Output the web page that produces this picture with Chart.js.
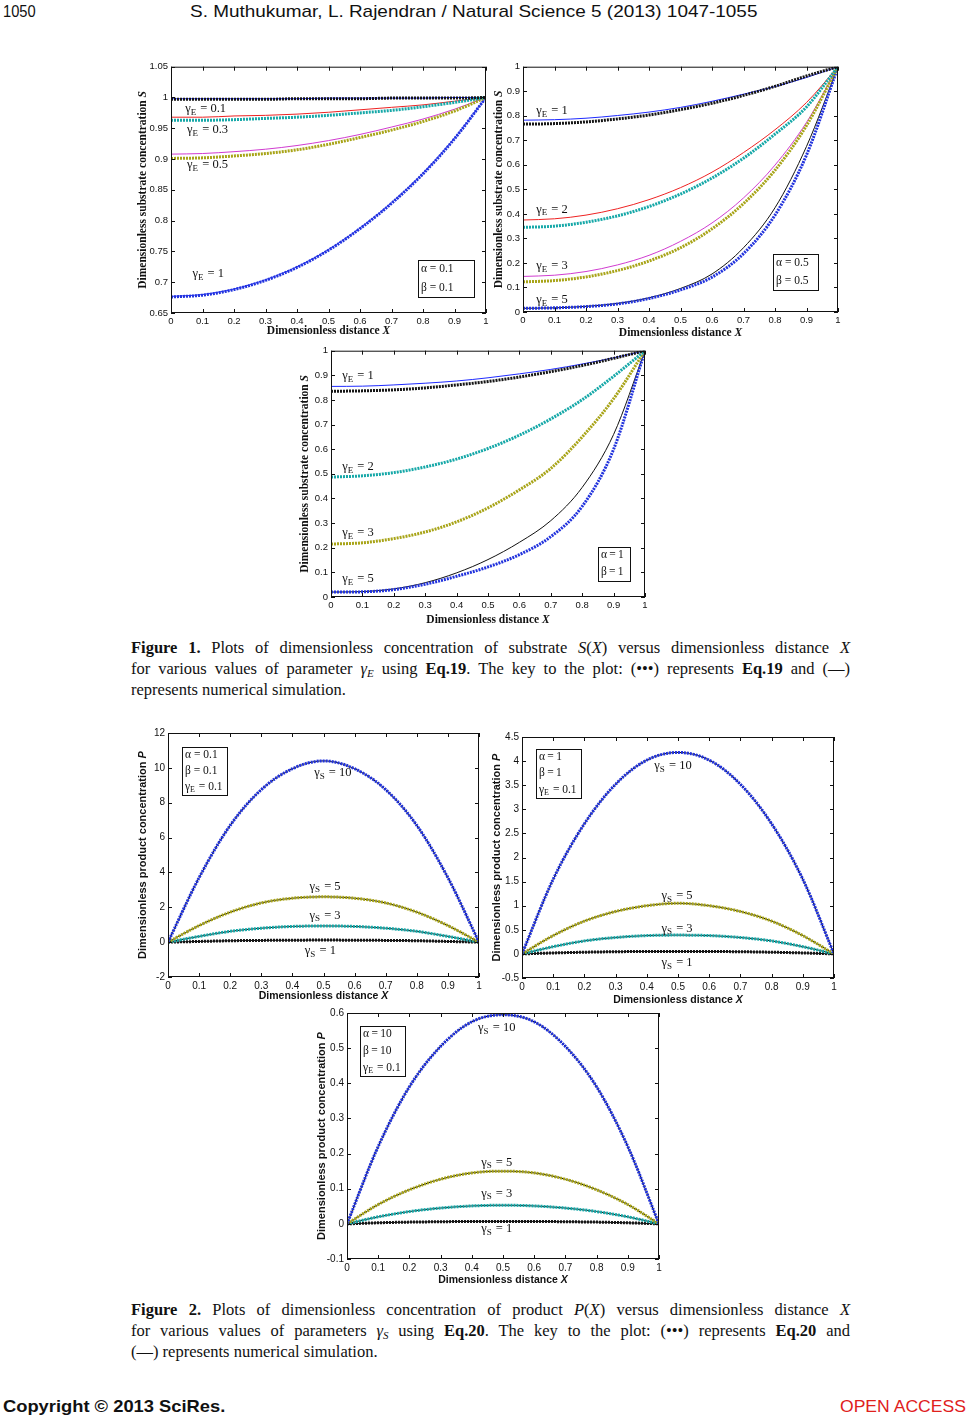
<!DOCTYPE html>
<html>
<head>
<meta charset="utf-8">
<script src="https://cdn.jsdelivr.net/npm/chart.js@4.4.1/dist/chart.umd.min.js"></script>
<style>
  html, body { margin: 0; padding: 0; background: #fff; }
  body { position: relative; width: 968px; height: 1419px; overflow: hidden; }
  canvas { position: absolute; }
  .txt { position: absolute; white-space: nowrap; font-family: "Liberation Sans", Arial, sans-serif; color: #111;
         transform-origin: 0 0; line-height: 20px; }
  .cap { position: absolute; left: 131px; width: 719px; font-family: "Liberation Serif", "Times New Roman", serif;
         font-size: 16.5px; line-height: 21px; color: #111; }
  .cap div { white-space: nowrap; height: 21px; }
  .cap .j { text-align: justify; text-align-last: justify; white-space: normal; }
  .cap sub { font-size: 11px; line-height: 0; vertical-align: -3px; }
</style>
</head>
<body>
<div class="txt" data-w="33" style="left:3px; top:2px; font-size:16px;">1050</div>
<div class="txt" data-w="567" style="left:190px; top:2px; font-size:17px;">S. Muthukumar, L. Rajendran / Natural Science 5 (2013) 1047-1055</div>

<div class="cap" style="top:637px;">
  <div class="j"><b>Figure 1.</b> Plots of dimensionless concentration of substrate <i>S</i>(<i>X</i>) versus dimensionless distance <i>X</i></div>
  <div class="j">for various values of parameter <i>γ<sub>E</sub></i> using <b>Eq.19</b>. The key to the plot: (•••) represents <b>Eq.19</b> and (—)</div>
  <div>represents numerical simulation.</div>
</div>

<div class="cap" style="top:1299px;">
  <div class="j"><b>Figure 2.</b> Plots of dimensionless concentration of product <i>P</i>(<i>X</i>) versus dimensionless distance <i>X</i></div>
  <div class="j">for various values of parameters <i>γ<sub>S</sub></i> using <b>Eq.20</b>. The key to the plot: (•••) represents <b>Eq.20</b> and</div>
  <div>(—) represents numerical simulation.</div>
</div>

<div class="txt" data-w="222" style="left:3px; top:1397px; font-size:17px; font-weight:bold;">Copyright © 2013 SciRes.</div>
<div class="txt" data-w="126" style="left:840px; top:1397px; font-size:17px; color:#e0201c;">OPEN ACCESS</div>

<script>
// distance X where the curves were read
const xs = [0, 0.1, 0.2, 0.3, 0.4, 0.5, 0.6, 0.7, 0.8, 0.9, 1];

// tick labels
const xTicks = [0, 0.1, 0.2, 0.3, 0.4, 0.5, 0.6, 0.7, 0.8, 0.9, 1];
const yTicksA = [0.65, 0.7, 0.75, 0.8, 0.85, 0.9, 0.95, 1, 1.05];
const yTicksB = [0, 0.1, 0.2, 0.3, 0.4, 0.5, 0.6, 0.7, 0.8, 0.9, 1];
const yTicksD = [-2, 0, 2, 4, 6, 8, 10, 12];
const yTicksE = [-0.5, 0, 0.5, 1, 1.5, 2, 2.5, 3, 3.5, 4, 4.5];
const yTicksF = [-0.1, 0, 0.1, 0.2, 0.3, 0.4, 0.5, 0.6];

// Fig 1, alpha = beta = 0.1  (num = simulation, eq = Eq.19)
const a1Num01 = [0.998, 0.998, 0.998, 0.998, 0.998, 0.999, 0.999, 0.999, 0.999, 1, 1];
const a1Eq01 = [0.997, 0.997, 0.997, 0.997, 0.998, 0.998, 0.998, 0.999, 0.999, 0.999, 1];
const a1Num03 = [0.968, 0.968, 0.970, 0.971, 0.973, 0.976, 0.980, 0.984, 0.988, 0.994, 1];
const a1Eq03 = [0.963, 0.963, 0.964, 0.966, 0.968, 0.971, 0.975, 0.979, 0.985, 0.992, 1];
const a1Num05 = [0.908, 0.909, 0.912, 0.916, 0.922, 0.930, 0.940, 0.952, 0.965, 0.981, 1];
const a1Eq05 = [0.901, 0.902, 0.905, 0.909, 0.915, 0.924, 0.935, 0.947, 0.961, 0.978, 1];
const a1Num1 = [0.677, 0.680, 0.689, 0.704, 0.725, 0.753, 0.788, 0.829, 0.877, 0.934, 1];
const a1Eq1 = [0.676, 0.679, 0.688, 0.703, 0.724, 0.752, 0.787, 0.828, 0.876, 0.933, 1];

// Fig 1, alpha = beta = 0.5
const a2Num1 = [0.782, 0.784, 0.790, 0.801, 0.815, 0.834, 0.859, 0.888, 0.919, 0.956, 1];
const a2Eq1 = [0.766, 0.768, 0.775, 0.787, 0.803, 0.825, 0.851, 0.883, 0.920, 0.962, 1];
const a2Num2 = [0.375, 0.380, 0.395, 0.421, 0.458, 0.507, 0.570, 0.650, 0.743, 0.854, 1];
const a2Eq2 = [0.345, 0.350, 0.366, 0.392, 0.430, 0.481, 0.546, 0.627, 0.725, 0.836, 1];
const a2Num3 = [0.145, 0.150, 0.165, 0.192, 0.231, 0.288, 0.363, 0.465, 0.599, 0.773, 1];
const a2Eq3 = [0.123, 0.128, 0.143, 0.169, 0.208, 0.262, 0.339, 0.442, 0.578, 0.760, 1];
const a2Num5 = [0.015, 0.017, 0.023, 0.035, 0.058, 0.096, 0.155, 0.262, 0.425, 0.675, 1];
const a2Eq5 = [0.015, 0.017, 0.022, 0.033, 0.055, 0.090, 0.142, 0.238, 0.395, 0.640, 1];

// Fig 1, alpha = beta = 1
const a3Num1 = [0.855, 0.856, 0.861, 0.868, 0.877, 0.890, 0.906, 0.924, 0.946, 0.971, 1];
const a3Eq1 = [0.835, 0.837, 0.841, 0.849, 0.861, 0.875, 0.893, 0.915, 0.940, 0.969, 1];
const a3Eq2 = [0.487, 0.492, 0.505, 0.528, 0.560, 0.603, 0.657, 0.723, 0.801, 0.896, 1];
const a3Eq3 = [0.215, 0.220, 0.237, 0.264, 0.305, 0.362, 0.435, 0.522, 0.650, 0.805, 1];
const a3Num5 = [0.020, 0.022, 0.033, 0.058, 0.098, 0.152, 0.222, 0.310, 0.445, 0.660, 1];
const a3Eq5 = [0.020, 0.021, 0.030, 0.052, 0.084, 0.122, 0.172, 0.245, 0.368, 0.600, 1];

// Fig 2, product P for gammaS = 10, 5, 3, 1
const b1S10 = [0, 3.7, 6.7, 8.75, 9.95, 10.4, 9.95, 8.75, 6.7, 3.7, 0];
const b1S5 = [0, 0.95, 1.72, 2.25, 2.52, 2.6, 2.52, 2.25, 1.72, 0.95, 0];
const b1S3 = [0, 0.33, 0.62, 0.8, 0.9, 0.93, 0.9, 0.8, 0.62, 0.33, 0];
const b1S1 = [0, 0.04, 0.08, 0.1, 0.11, 0.12, 0.11, 0.1, 0.08, 0.04, 0];

const b2S10 = [0, 1.55, 2.7, 3.52, 4.02, 4.18, 4.02, 3.52, 2.7, 1.55, 0];
const b2S5 = [0, 0.38, 0.68, 0.88, 1.0, 1.05, 1.0, 0.88, 0.68, 0.38, 0];
const b2S3 = [0, 0.15, 0.27, 0.34, 0.38, 0.39, 0.38, 0.34, 0.27, 0.15, 0];
const b2S1 = [0, 0.02, 0.035, 0.045, 0.05, 0.05, 0.05, 0.045, 0.035, 0.02, 0];

const b3S10 = [0, 0.22, 0.39, 0.505, 0.575, 0.595, 0.575, 0.505, 0.39, 0.22, 0];
const b3S5 = [0, 0.055, 0.097, 0.127, 0.145, 0.15, 0.145, 0.127, 0.097, 0.055, 0];
const b3S3 = [0, 0.02, 0.035, 0.045, 0.051, 0.053, 0.051, 0.045, 0.035, 0.02, 0];
const b3S1 = [0, 0.003, 0.005, 0.006, 0.007, 0.007, 0.007, 0.006, 0.005, 0.003, 0];

/*
  =========================
     STYLES
  =========================
*/

const C = {
  blue: "#1f2bff",
  red: "#ee2222",
  magenta: "#d03cd0",
  black: "#111111",
  dotBlack: "#151515",
  dotCyan: "#16a8a8",
  dotYellow: "#a8a418",
  dotBlue: "#2233dd",
};

const AX_W = 45;
const AX_H = 30;
const PAD_T = 8;
const PAD_R = 12;

const SERIF = '"Liberation Serif", "Times New Roman", serif';
const SANS = '"Liberation Sans", Arial, sans-serif';

function num(arr, color) {
  return { data: arr, color: color, kind: "num" };
}

function eq(arr, color) {
  return { data: arr, color: color, kind: "eq" };
}

const g = (sub, rest) => ({ sym: "γ", sub: sub, rest: rest });
const s = (sym, rest) => ({ sym: sym, rest: rest });
const TS = "\u2009";

const charts = [
  {
    plot: { left: 171, top: 66, w: 315, h: 247 },
    yMin: 0.65, yMax: 1.05, yTicks: yTicksA,
    series: [
      eq(a1Eq01, C.dotBlack), eq(a1Eq03, C.dotCyan), eq(a1Eq05, C.dotYellow), eq(a1Eq1, C.dotBlue),
      num(a1Num01, C.blue), num(a1Num03, C.red), num(a1Num05, C.magenta), num(a1Num1, C.blue),
    ],
    labels: [
      { x: 0.11, y: 0.982, t: g("E", " = 0.1") },
      { x: 0.116, y: 0.948, t: g("E", " = 0.3") },
      { x: 0.116, y: 0.891, t: g("E", " = 0.5") },
      { x: 0.118, y: 0.714, t: g("E", " = 1") },
    ],
    box: { x0: 0.784, y0: 0.736, x1: 0.963, y1: 0.676, lines: [s("α", " = 0.1"), s("β", " = 0.1")] },
    serif: true, tick: 9.5, xOff: 18, yOff: -28,
    yTitle: ["Dimensionless substrate concentration ", "S"],
  },
  {
    plot: { left: 523, top: 66, w: 315, h: 246 },
    yMin: 0, yMax: 1, yTicks: yTicksB,
    series: [
      eq(a2Eq1, C.dotBlack), eq(a2Eq2, C.dotCyan), eq(a2Eq3, C.dotYellow), eq(a2Eq5, C.dotBlue),
      num(a2Num1, C.blue), num(a2Num2, C.red), num(a2Num3, C.magenta), num(a2Num5, C.black),
    ],
    labels: [
      { x: 0.092, y: 0.821, t: g("E", " = 1") },
      { x: 0.092, y: 0.419, t: g("E", " = 2") },
      { x: 0.092, y: 0.187, t: g("E", " = 3") },
      { x: 0.092, y: 0.049, t: g("E", " = 5") },
    ],
    box: { x0: 0.794, y0: 0.236, x1: 0.937, y1: 0.089, lines: [s("α", " = 0.5"), s("β", " = 0.5")] },
    serif: true, tick: 9.5, xOff: 21, yOff: -24,
    yTitle: ["Dimensionless substrate concentration ", "S"],
  },
  {
    plot: { left: 331, top: 350, w: 314, h: 247 },
    yMin: 0, yMax: 1, yTicks: yTicksB,
    series: [
      eq(a3Eq1, C.dotBlack), eq(a3Eq2, C.dotCyan), eq(a3Eq3, C.dotYellow), eq(a3Eq5, C.dotBlue),
      num(a3Num1, C.blue), num(a3Num5, C.black),
    ],
    labels: [
      { x: 0.086, y: 0.899, t: g("E", " = 1") },
      { x: 0.086, y: 0.53, t: g("E", " = 2") },
      { x: 0.086, y: 0.259, t: g("E", " = 3") },
      { x: 0.086, y: 0.073, t: g("E", " = 5") },
    ],
    box: { x0: 0.85, y0: 0.205, x1: 0.952, y1: 0.065, lines: [s("α", TS + "=" + TS + "1"), s("β", TS + "=" + TS + "1")] },
    serif: true, tick: 9.5, xOff: 23, yOff: -26,
    yTitle: ["Dimensionless substrate concentration ", "S"],
  },
  {
    plot: { left: 168, top: 732, w: 311, h: 245 },
    yMin: -2, yMax: 12, yTicks: yTicksD,
    series: [
      eq(b1S10, C.dotBlue), eq(b1S5, C.dotYellow), eq(b1S3, C.dotCyan), eq(b1S1, C.dotBlack),
      num(b1S10, C.black), num(b1S5, C.black), num(b1S3, C.black), num(b1S1, C.black),
    ],
    labels: [
      { x: 0.53, y: 9.71, t: g("S", " = 10") },
      { x: 0.505, y: 3.2, t: g("S", " = 5") },
      { x: 0.505, y: 1.54, t: g("S", " = 3") },
      { x: 0.49, y: -0.51, t: g("S", " = 1") },
    ],
    box: { x0: 0.045, y0: 11.2, x1: 0.19, y1: 8.46, lines: [s("α", " = 0.1"), s("β", " = 0.1"), g("E", " = 0.1")] },
    serif: false, tick: 10, xOff: 19, yOff: -25,
    yTitle: ["Dimensionless product concentration ", "P"],
  },
  {
    plot: { left: 522, top: 736, w: 312, h: 242 },
    yMin: -0.5, yMax: 4.5, yTicks: yTicksE,
    series: [
      eq(b2S10, C.dotBlue), eq(b2S5, C.dotYellow), eq(b2S3, C.dotCyan), eq(b2S1, C.dotBlack),
      num(b2S10, C.black), num(b2S5, C.black), num(b2S3, C.black), num(b2S1, C.black),
    ],
    labels: [
      { x: 0.484, y: 3.9, t: g("S", " = 10") },
      { x: 0.497, y: 1.21, t: g("S", " = 5") },
      { x: 0.497, y: 0.53, t: g("S", " = 3") },
      { x: 0.497, y: -0.19, t: g("S", " = 1") },
    ],
    box: { x0: 0.045, y0: 4.25, x1: 0.19, y1: 3.24,
      lines: [s("α", TS + "=" + TS + "1"), s("β", TS + "=" + TS + "1"), g("E", " = 0.1")] },
    serif: false, tick: 10, xOff: 22, yOff: -25,
    yTitle: ["Dimensionless product concentration ", "P"],
  },
  {
    plot: { left: 347, top: 1012, w: 312, h: 247 },
    yMin: -0.1, yMax: 0.6, yTicks: yTicksF,
    series: [
      eq(b3S10, C.dotBlue), eq(b3S5, C.dotYellow), eq(b3S3, C.dotCyan), eq(b3S1, C.dotBlack),
      num(b3S10, C.black), num(b3S5, C.black), num(b3S3, C.black), num(b3S1, C.black),
    ],
    labels: [
      { x: 0.48, y: 0.557, t: g("S", " = 10") },
      { x: 0.48, y: 0.175, t: g("S", " = 5") },
      { x: 0.48, y: 0.087, t: g("S", " = 3") },
      { x: 0.48, y: -0.015, t: g("S", " = 1") },
    ],
    box: { x0: 0.042, y0: 0.563, x1: 0.187, y1: 0.421,
      lines: [s("α", TS + "=" + TS + "10"), s("β", TS + "=" + TS + "10"), g("E", " = 0.1")] },
    serif: false, tick: 10, xOff: 21, yOff: -25,
    yTitle: ["Dimensionless product concentration ", "P"],
  },
];

/*
  =========================
     DRAWING HELPERS
  =========================
*/

function drawSym(ctx, x, cy, t, size, align) {
  const f = size + "px " + SERIF;
  const fs = Math.round(size * 0.7) + "px " + SERIF;
  ctx.font = f;
  const w1 = ctx.measureText(t.sym).width;
  const w3 = ctx.measureText(t.rest).width;
  ctx.font = fs;
  const w2 = t.sub ? ctx.measureText(t.sub).width + 1 : 0;
  let px = align === "center" ? x - (w1 + w2 + w3) / 2 : x;
  ctx.textAlign = "left";
  ctx.textBaseline = "middle";
  ctx.font = f;
  ctx.fillText(t.sym, px, cy);
  px += w1;
  if (t.sub) {
    ctx.font = fs;
    ctx.fillText(t.sub, px, cy + size * 0.3);
    px += w2;
  }
  ctx.font = f;
  ctx.fillText(t.rest, px, cy);
}

function drawTitle(ctx, parts, cx, cy, family, size) {
  const f1 = "bold " + size + "px " + family;
  const f2 = "bold italic " + size + "px " + family;
  ctx.font = f1;
  const w1 = ctx.measureText(parts[0]).width;
  ctx.font = f2;
  const w2 = ctx.measureText(parts[1]).width;
  ctx.textAlign = "left";
  ctx.textBaseline = "middle";
  ctx.font = f1;
  ctx.fillText(parts[0], cx - (w1 + w2) / 2, cy);
  ctx.font = f2;
  ctx.fillText(parts[1], cx - (w1 + w2) / 2 + w1, cy);
}

function makeDecor(spec) {
  return {
    id: "decor",
    afterDraw(chart) {
      const ctx = chart.ctx;
      const a = chart.chartArea;
      const sx = chart.scales.x;
      const sy = chart.scales.y;
      ctx.save();
      ctx.fillStyle = "#111";
      ctx.strokeStyle = "#111";
      ctx.lineWidth = 1;

      // frame + inward ticks (all four sides)
      ctx.strokeRect(a.left + 0.5, a.top + 0.5, a.right - a.left - 1, a.bottom - a.top - 1);
      ctx.beginPath();
      sx.ticks.forEach((t) => {
        const p = Math.round(sx.getPixelForValue(t.value)) + 0.5;
        ctx.moveTo(p, a.bottom); ctx.lineTo(p, a.bottom - 4);
        ctx.moveTo(p, a.top); ctx.lineTo(p, a.top + 4);
      });
      sy.ticks.forEach((t) => {
        const p = Math.round(sy.getPixelForValue(t.value)) + 0.5;
        ctx.moveTo(a.left, p); ctx.lineTo(a.left + 4, p);
        ctx.moveTo(a.right, p); ctx.lineTo(a.right - 4, p);
      });
      ctx.stroke();

      // curve labels
      spec.labels.forEach((l) => {
        drawSym(ctx, sx.getPixelForValue(l.x), sy.getPixelForValue(l.y), l.t, 12.5, "center");
      });

      // parameter box
      const b = spec.box;
      const bx0 = sx.getPixelForValue(b.x0);
      const bx1 = sx.getPixelForValue(b.x1);
      const by0 = sy.getPixelForValue(b.y0);
      const by1 = sy.getPixelForValue(b.y1);
      ctx.fillStyle = "#fff";
      ctx.fillRect(bx0, by0, bx1 - bx0, by1 - by0);
      ctx.strokeRect(Math.round(bx0) + 0.5, Math.round(by0) + 0.5, Math.round(bx1 - bx0), Math.round(by1 - by0));
      ctx.fillStyle = "#111";
      const step = (by1 - by0) / b.lines.length;
      b.lines.forEach((ln, i) => {
        drawSym(ctx, bx0 + 3, by0 + step * (i + 0.5), ln, 11.5, "left");
      });

      // axis titles
      const fam = spec.serif ? SERIF : SANS;
      drawTitle(ctx, ["Dimensionless distance ", "X"], (a.left + a.right) / 2, a.bottom + spec.xOff, fam, spec.serif ? 11.5 : 10.5);
      ctx.save();
      ctx.translate(a.left + spec.yOff, (a.top + a.bottom) / 2);
      ctx.rotate(-Math.PI / 2);
      drawTitle(ctx, spec.yTitle, 0, 0, fam, spec.serif ? 11.5 : 11);
      ctx.restore();

      ctx.restore();
    },
  };
}

/*
  =========================
     CHARTS
  =========================
*/

function makeChart(spec) {
  const W = spec.plot.w + AX_W + PAD_R;
  const H = spec.plot.h + PAD_T + AX_H;
  const canvas = document.createElement("canvas");
  canvas.width = W;
  canvas.height = H;
  canvas.style.left = spec.plot.left - AX_W + "px";
  canvas.style.top = spec.plot.top - PAD_T + "px";
  canvas.style.width = W + "px";
  canvas.style.height = H + "px";
  document.body.appendChild(canvas);

  const datasets = spec.series.map((sr) => ({
    data: xs.map((x, i) => ({ x: x, y: sr.data[i] })),
    borderColor: sr.color,
    borderWidth: sr.kind === "eq" ? 3 : 1,
    borderDash: sr.kind === "eq" ? [2, 1] : [],
    pointRadius: 0,
    fill: false,
    cubicInterpolationMode: "monotone",
  }));

  const tickFont = { family: SANS, size: spec.tick };

  new Chart(canvas, {
    type: "line",
    data: { datasets: datasets },
    options: {
      responsive: false,
      animation: false,
      layout: { padding: { top: PAD_T, right: PAD_R, left: 0, bottom: 0 } },
      plugins: { legend: { display: false }, tooltip: { enabled: false } },
      scales: {
        x: {
          type: "linear",
          min: 0,
          max: 1,
          grid: { display: false, drawTicks: false },
          border: { display: false },
          ticks: { padding: 3, color: "#111", font: tickFont, autoSkip: false, maxRotation: 0, callback: (v) => String(v) },
          afterBuildTicks: (sc) => { sc.ticks = xTicks.map((v) => ({ value: v })); },
          afterFit: (sc) => { sc.height = AX_H; },
        },
        y: {
          type: "linear",
          min: spec.yMin,
          max: spec.yMax,
          grid: { display: false, drawTicks: false },
          border: { display: false },
          ticks: { padding: 3, color: "#111", font: tickFont, autoSkip: false, callback: (v) => String(v) },
          afterBuildTicks: (sc) => { sc.ticks = spec.yTicks.map((v) => ({ value: v })); },
          afterFit: (sc) => { sc.width = AX_W; },
        },
      },
    },
    plugins: [makeDecor(spec)],
  });
}

charts.forEach(makeChart);

// squeeze page header / footer text to the widths of the scan
document.querySelectorAll(".txt[data-w]").forEach((el) => {
  const k = Number(el.dataset.w) / el.offsetWidth;
  el.style.transform = "scaleX(" + k.toFixed(3) + ")";
});
</script>
</body>
</html>
